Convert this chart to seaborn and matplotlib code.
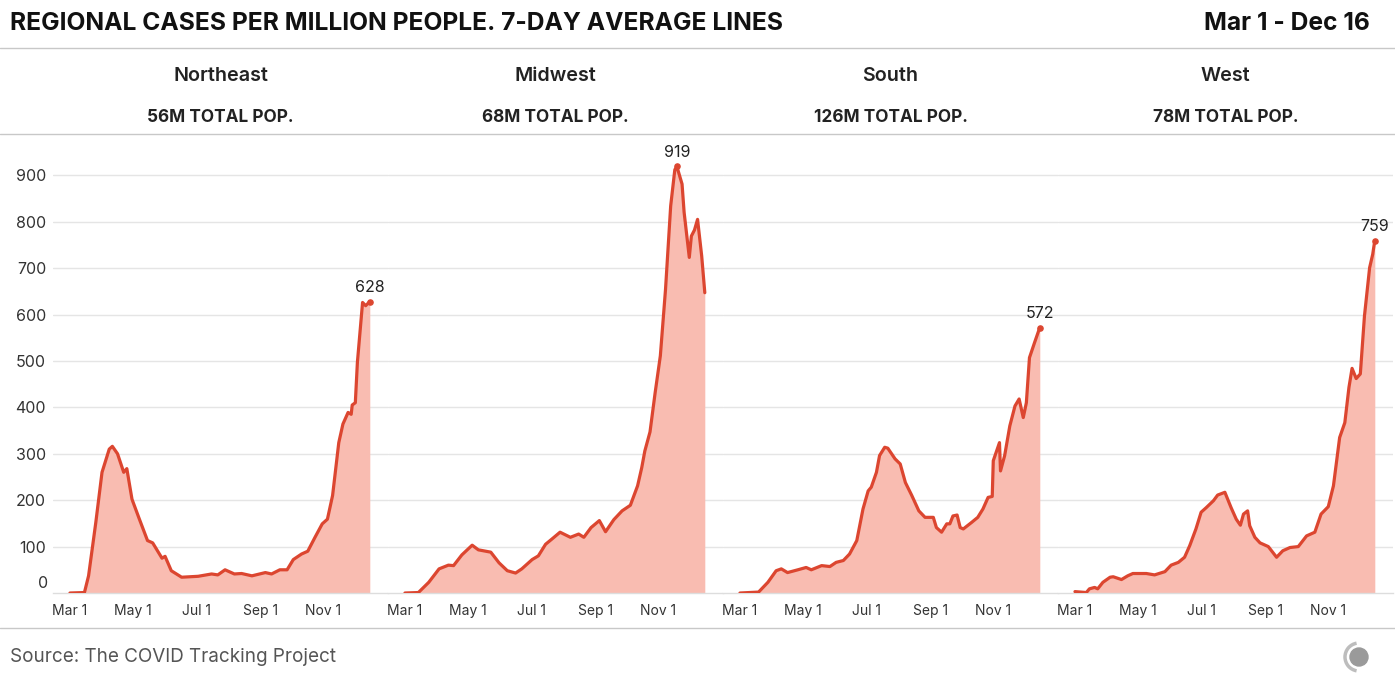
import matplotlib.pyplot as plt
import matplotlib.patches as mpatches
import pandas as pd
import seaborn as sns

# values (7-day avg cases per million)
ne_dates = ["2020-03-01", "2020-03-15", "2020-03-19", "2020-03-26", "2020-04-01", "2020-04-08",
            "2020-04-11", "2020-04-16", "2020-04-22", "2020-04-25", "2020-04-30", "2020-05-07",
            "2020-05-15", "2020-05-20", "2020-05-29", "2020-06-01", "2020-06-07", "2020-06-17",
            "2020-07-03", "2020-07-16", "2020-07-22", "2020-07-29", "2020-08-07", "2020-08-14",
            "2020-08-24", "2020-09-06", "2020-09-12", "2020-09-20", "2020-09-27", "2020-10-03",
            "2020-10-11", "2020-10-17", "2020-10-24", "2020-10-31", "2020-11-05", "2020-11-10",
            "2020-11-16", "2020-11-20", "2020-11-25", "2020-11-28", "2020-11-29", "2020-12-02",
            "2020-12-04", "2020-12-09", "2020-12-12", "2020-12-16"]
ne_vals = [0, 1, 37, 152, 260, 310, 316, 300, 260, 268, 202, 160, 113, 108, 75, 79, 48, 34,
           36, 41, 39, 50, 41, 42, 37, 44, 41, 50, 50, 72, 84, 90, 120, 149, 159, 210, 324, 364,
           389, 385, 405, 410, 497, 626, 619, 628]

mw_dates = ["2020-03-01", "2020-03-14", "2020-03-24", "2020-04-03", "2020-04-12", "2020-04-17",
            "2020-04-25", "2020-05-05", "2020-05-11", "2020-05-23", "2020-05-31", "2020-06-08",
            "2020-06-16", "2020-06-22", "2020-07-02", "2020-07-08", "2020-07-15", "2020-07-21",
            "2020-07-29", "2020-08-08", "2020-08-16", "2020-08-21", "2020-08-28", "2020-09-05",
            "2020-09-11", "2020-09-19", "2020-09-27", "2020-10-05", "2020-10-12", "2020-10-16",
            "2020-10-19", "2020-10-24", "2020-10-29", "2020-11-03", "2020-11-08", "2020-11-13",
            "2020-11-17", "2020-11-19", "2020-11-24", "2020-11-26", "2020-12-01", "2020-12-03",
            "2020-12-06", "2020-12-09", "2020-12-13", "2020-12-16"]
mw_vals = [0, 1, 23, 52, 60, 59, 82, 103, 93, 88, 65, 48, 43, 52, 72, 80, 105, 116, 131, 120,
           127, 120, 141, 156, 132, 158, 177, 189, 231, 270, 306, 347, 432, 511, 654, 834, 912,
           919, 881, 820, 723, 769, 782, 805, 726, 647]

so_dates = ["2020-03-01", "2020-03-19", "2020-03-28", "2020-04-05", "2020-04-10", "2020-04-16",
            "2020-04-26", "2020-05-04", "2020-05-09", "2020-05-19", "2020-05-27", "2020-06-02",
            "2020-06-09", "2020-06-15", "2020-06-22", "2020-06-28", "2020-07-03", "2020-07-06",
            "2020-07-11", "2020-07-14", "2020-07-19", "2020-07-22", "2020-07-29", "2020-08-03",
            "2020-08-08", "2020-08-14", "2020-08-21", "2020-08-27", "2020-09-04", "2020-09-07",
            "2020-09-12", "2020-09-17", "2020-09-20", "2020-09-23", "2020-09-27", "2020-09-30",
            "2020-10-03", "2020-10-11", "2020-10-17", "2020-10-22", "2020-10-27", "2020-10-31",
            "2020-11-01", "2020-11-07", "2020-11-08", "2020-11-12", "2020-11-17", "2020-11-22",
            "2020-11-26", "2020-11-30", "2020-12-03", "2020-12-06", "2020-12-11", "2020-12-16"]
so_vals = [0, 2, 23, 48, 52, 44, 50, 55, 50, 59, 57, 66, 70, 84, 113, 181, 220, 228, 260, 296,
           314, 312, 289, 278, 238, 211, 177, 163, 163, 141, 131, 149, 149, 166, 168, 141, 138,
           152, 163, 181, 206, 208, 285, 324, 263, 296, 360, 403, 418, 378, 410, 507, 540, 572]

we_dates = ["2020-03-01", "2020-03-12", "2020-03-15", "2020-03-20", "2020-03-23", "2020-03-28",
            "2020-04-04", "2020-04-07", "2020-04-15", "2020-04-21", "2020-04-26", "2020-05-09",
            "2020-05-17", "2020-05-27", "2020-06-02", "2020-06-09", "2020-06-15", "2020-06-20",
            "2020-06-26", "2020-07-01", "2020-07-06", "2020-07-13", "2020-07-17", "2020-07-24",
            "2020-07-30", "2020-08-04", "2020-08-08", "2020-08-11", "2020-08-15", "2020-08-17",
            "2020-08-22", "2020-08-27", "2020-09-04", "2020-09-12", "2020-09-18", "2020-09-25",
            "2020-10-03", "2020-10-11", "2020-10-19", "2020-10-25", "2020-11-01", "2020-11-06",
            "2020-11-12", "2020-11-17", "2020-11-21", "2020-11-24", "2020-11-28", "2020-12-02",
            "2020-12-06", "2020-12-11", "2020-12-14", "2020-12-15", "2020-12-16"]
we_vals = [3, 1, 9, 12, 9, 23, 34, 35, 29, 37, 42, 42, 39, 46, 60, 66, 77, 102, 138, 174, 184,
           199, 211, 217, 184, 159, 146, 170, 177, 145, 120, 108, 100, 77, 91, 98, 100, 123, 131,
           170, 186, 231, 335, 367, 443, 484, 462, 472, 597, 701, 730, 745, 759]

regions = ["Northeast", "Midwest", "South", "West"]
populations = ["56M TOTAL POP.", "68M TOTAL POP.", "126M TOTAL POP.", "78M TOTAL POP."]
series = [(ne_dates, ne_vals), (mw_dates, mw_vals), (so_dates, so_vals), (we_dates, we_vals)]
tick_dates = ["2020-03-01", "2020-05-01", "2020-07-01", "2020-09-01", "2020-11-01"]
tick_labels = ["Mar 1", "May 1", "Jul 1", "Sep 1", "Nov 1"]

LINE = "#dc4630"
FILL = "#f9bcb1"
TXT = "#222222"

sns.set_theme(style="white")
plt.rcParams["font.family"] = ["Inter", "DejaVu Sans"]

W, H = 1395, 692
fig = plt.figure(figsize=(W / 100, H / 100), dpi=100)

x_left = pd.Timestamp("2020-03-01") - pd.Timedelta(days=16.4)
x_right = x_left + pd.Timedelta(days=324)

panel_w = 335
for i, (region, pop, (d, v)) in enumerate(zip(regions, populations, series)):
    left = (53 + i * panel_w) / W
    ax = fig.add_axes([left, 1 - 593 / H, panel_w / W, (593 - 140) / H])
    df = pd.DataFrame({"date": pd.to_datetime(d), "cases": v})
    ax.fill_between(df["date"], df["cases"], color=FILL, lw=0, zorder=2)
    sns.lineplot(data=df, x="date", y="cases", ax=ax, color=LINE, lw=2.3, zorder=3)
    top = df.loc[df["cases"].idxmax()]
    ax.scatter([top["date"]], [top["cases"]], s=14, color=LINE, zorder=4)
    ax.annotate(str(int(top["cases"])), (top["date"], top["cases"]), xytext=(0, 4.5),
                textcoords="offset points", ha="center", va="bottom", fontsize=11.5, color=TXT)

    ax.set_xlim(x_left, x_right)
    ax.set_ylim(0, 976)
    ax.set_yticks(range(100, 1000, 100))
    ax.grid(axis="y", color="#e5e5e5", lw=1)
    ax.set_axisbelow(True)
    for s in ["top", "right", "left"]:
        ax.spines[s].set_visible(False)
    ax.spines["bottom"].set_color("#dddddd")
    ax.spines["bottom"].set_linewidth(1)
    ax.set_xticks(pd.to_datetime(tick_dates))
    ax.set_xticklabels(tick_labels, fontsize=10, color="#333333")
    ax.tick_params(axis="x", length=0, pad=8)
    ax.set_xlabel("")
    ax.set_ylabel("")
    if i == 0:
        ax.tick_params(axis="y", length=0, pad=5, labelsize=11.5, labelcolor="#333333")
        ax.text(-5 / panel_w, 10 / 453, "0", transform=ax.transAxes, ha="right", va="center",
                fontsize=11.5, color="#333333")
    else:
        ax.tick_params(axis="y", length=0, labelleft=False)

    cx = (53 + i * panel_w + panel_w / 2) / W
    fig.text(cx, 1 - 76 / H, region, ha="center", va="center", fontsize=14.2,
             fontweight="semibold", color=TXT)
    fig.text(cx, 1 - 118 / H, pop, ha="center", va="center", fontsize=12.4,
             fontweight="bold", color=TXT)

fig.text(10 / W, 1 - 23 / H, "REGIONAL CASES PER MILLION PEOPLE. 7-DAY AVERAGE LINES",
         ha="left", va="center", fontsize=17.7, fontweight="bold", color="#111111")
fig.text(1 - 25 / W, 1 - 23 / H, "Mar 1 - Dec 16", ha="right", va="center",
         fontsize=17.7, fontweight="bold", color="#111111")
fig.text(10 / W, 1 - 657 / H, "Source: The COVID Tracking Project", ha="left", va="center",
         fontsize=13.6, color="#555555")

for yy in [48, 134, 628]:
    fig.add_artist(plt.Line2D([0, 1], [1 - yy / H, 1 - yy / H], color="#c8c8c8", lw=1))

# small logo bottom right
lax = fig.add_axes([(1358 - 20) / W, 1 - (657 + 20) / H, 40 / W, 40 / H])
lax.set_xlim(-20, 20)
lax.set_ylim(-20, 20)
lax.axis("off")
lax.add_patch(mpatches.Circle((1, 0), 9, color="#9a9a9a"))
lax.add_patch(mpatches.Arc((1, 0), 28, 28, theta1=100, theta2=260, color="#bdbdbd", lw=2.5))

fig.savefig("out.png", dpi=100)
